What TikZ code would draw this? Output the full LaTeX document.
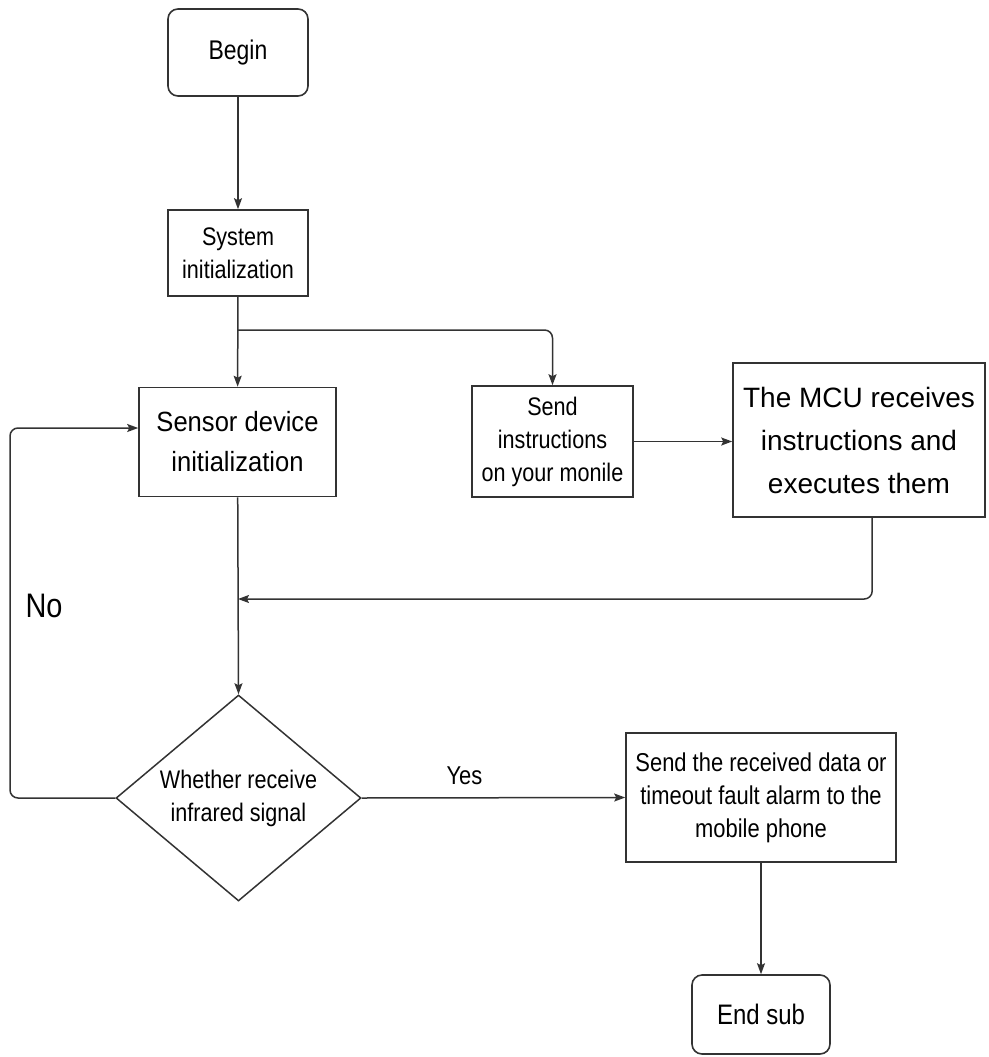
\documentclass[tikz,border=0pt]{standalone}
\usepackage{fontspec}
\setmainfont{Liberation Sans}
\newfontfamily\condfont{Liberation Sans}[FakeStretch=0.85]
\newfontfamily\semicond{Liberation Sans}[FakeStretch=0.92]
\usetikzlibrary{arrows.meta,shapes.geometric}
\tikzset{
  line/.style={draw=black!80, line width=1.5pt},
  arr/.style={line, -{Stealth[length=11pt,width=8pt,inset=2pt]}},
  box/.style={draw=black!80, line width=1.6pt, rectangle, inner sep=0pt, align=center, text=black},
  term/.style={box, rounded corners=10pt},
  t22/.style={font=\condfont\fontsize{25.4pt}{33pt}\selectfont},
  t26/.style={font=\semicond\fontsize{27.8pt}{40pt}\selectfont},
  t28/.style={font=\fontsize{28pt}{43pt}\selectfont},
  lbl/.style={inner sep=0pt, text=black, anchor=base},
}
\begin{document}
\begin{tikzpicture}[x=1pt,y=-1pt]
\useasboundingbox (0,0) rectangle (988,1057);
\node[term, minimum width=140pt, minimum height=87pt, font=\condfont\fontsize{27pt}{34pt}\selectfont] (begin) at (238,52.5) {Begin};
\node[box, t22, minimum width=140pt, minimum height=86pt] (sys) at (238,253) {System\\initialization};
\node[box, t26, minimum width=197pt, minimum height=109pt] (sens) at (237.5,442) {Sensor device\\initialization};
\node[box, t22, minimum width=161pt, minimum height=111pt] (send) at (552.5,441.5) {Send\\instructions\\on your monile};
\node[box, t28, minimum width=252pt, minimum height=154pt] (mcu) at (859,440) {The MCU receives\\instructions and\\executes them};
\node[draw=black!80, line width=1.5pt, diamond, minimum width=245pt, minimum height=206pt, inner sep=0pt,
      label={[t22, align=center, text=black]center:Whether receive\\infrared signal}] (dec) at (238.5,798) {};
\node[box, font=\condfont\fontsize{25.8pt}{33pt}\selectfont, minimum width=270pt, minimum height=129pt] (sd) at (761,797.5) {Send the received data or\\timeout fault alarm to the\\mobile phone};
\node[term, minimum width=138pt, minimum height=79pt, font=\condfont\fontsize{28.2pt}{36pt}\selectfont] (end) at (761,1014.5) {End sub};

\coordinate (br) at (238,330);
\coordinate (j) at (238,599);
\coordinate (lp1) at (10,798);
\coordinate (lp2) at (10,428);

\draw[arr] (begin) -- (sys);
\draw[arr] (sys) -- (sens);
\draw[arr, rounded corners=8pt] (br) -| (send.north);
\draw[arr] (send.east) -- (send.east -| mcu.west);
\draw[arr, rounded corners=8pt] ([xshift=140pt]mcu.south west) |- (j);
\draw[arr] (sens) -- (dec.north);
\draw[arr] (dec.east) -- node[lbl, pos=0.39, yshift=13pt, font=\condfont\fontsize{25.8pt}{26pt}\selectfont] {Yes} (sd.west);
\draw[arr, rounded corners=8pt] (dec.west) -- (lp1) -- (lp2) -- (lp2 -| sens.west);
\node[lbl, font=\condfont\fontsize{34pt}{34pt}\selectfont] (no) at (44,617) {No};
\draw[arr] (sd) -- (end);
\end{tikzpicture}
\end{document}
